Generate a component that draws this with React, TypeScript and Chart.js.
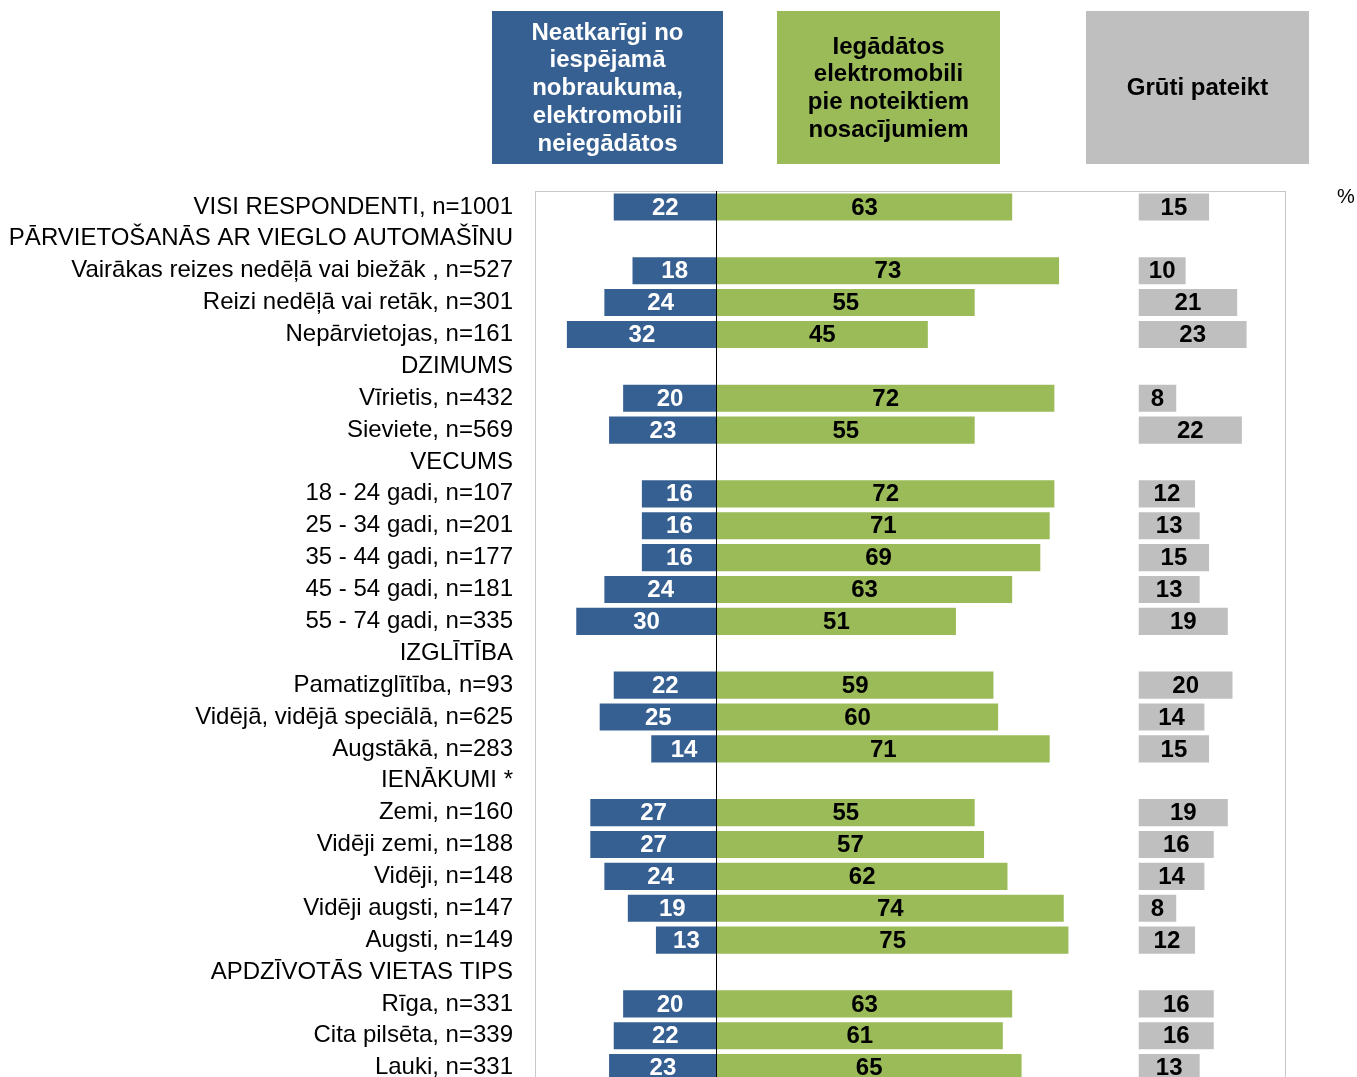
import React, { useEffect, useRef } from "react";
import { Chart, registerables } from "chart.js";

Chart.register(...registerables);

const categories = [
  "VISI RESPONDENTI, n=1001",
  "PĀRVIETOŠANĀS AR VIEGLO AUTOMAŠĪNU",
  "Vairākas reizes nedēļā vai biežāk , n=527",
  "Reizi nedēļā vai retāk, n=301",
  "Nepārvietojas, n=161",
  "DZIMUMS",
  "Vīrietis, n=432",
  "Sieviete, n=569",
  "VECUMS",
  "18 - 24 gadi, n=107",
  "25 - 34 gadi, n=201",
  "35 - 44 gadi, n=177",
  "45 - 54 gadi, n=181",
  "55 - 74 gadi, n=335",
  "IZGLĪTĪBA",
  "Pamatizglītība, n=93",
  "Vidējā, vidējā speciālā, n=625",
  "Augstākā, n=283",
  "IENĀKUMI *",
  "Zemi, n=160",
  "Vidēji zemi, n=188",
  "Vidēji, n=148",
  "Vidēji augsti, n=147",
  "Augsti, n=149",
  "APDZĪVOTĀS VIETAS TIPS",
  "Rīga, n=331",
  "Cita pilsēta, n=339",
  "Lauki, n=331",
];

const notBuying: (number | null)[] = [22, null, 18, 24, 32, null, 20, 23, null, 16, 16, 16, 24, 30, null, 22, 25, 14, null, 27, 27, 24, 19, 13, null, 20, 22, 23];
const conditional: (number | null)[] = [63, null, 73, 55, 45, null, 72, 55, null, 72, 71, 69, 63, 51, null, 59, 60, 71, null, 55, 57, 62, 74, 75, null, 63, 61, 65];
const hardToSay: (number | null)[] = [15, null, 10, 21, 23, null, 8, 22, null, 12, 13, 15, 13, 19, null, 20, 14, 15, null, 19, 16, 14, 8, 12, null, 16, 16, 13];

const GRAY_START = 90;

const headerBlue = ["Neatkarīgi no", "iespējamā", "nobraukuma,", "elektromobili", "neiegādātos"];
const headerGreen = ["Iegādātos", "elektromobili", "pie noteiktiem", "nosacījumiem"];
const headerGray = ["Grūti pateikt"];

const BLUE = "#376092";
const GREEN = "#9bbb59";
const GRAY = "#bfbfbf";
const FONT = "'Liberation Sans', Arial, sans-serif";

export default function App() {
  const ref = useRef<HTMLCanvasElement | null>(null);

  useEffect(() => {
    if (!ref.current) return;
    const labelsPlugin = {
      id: "customDraw",
      afterDatasetsDraw(chart: any) {
        const ctx = chart.ctx;
        const area = chart.chartArea;
        const xs = chart.scales.x;
        ctx.save();
        ctx.strokeStyle = "#c8c8c8";
        ctx.lineWidth = 1;
        ctx.strokeRect(Math.round(area.left) + 0.5, Math.round(area.top) + 0.5, area.right - area.left, area.bottom - area.top + 40);
        const x0 = Math.round(xs.getPixelForValue(0)) - 0.5;
        ctx.strokeStyle = "#000";
        ctx.beginPath();
        ctx.moveTo(x0, area.top);
        ctx.lineTo(x0, area.bottom + 40);
        ctx.stroke();
        const sources = [notBuying, conditional, hardToSay];
        const colors = ["#ffffff", "#000000", "#000000"];
        ctx.font = `bold 24px ${FONT}`;
        ctx.textAlign = "center";
        ctx.textBaseline = "middle";
        sources.forEach((arr, di) => {
          const meta = chart.getDatasetMeta(di);
          meta.data.forEach((bar: any, j: number) => {
            const v = arr[j];
            if (v == null) return;
            const cx = (bar.x + bar.base) / 2;
            ctx.fillStyle = colors[di];
            ctx.fillText(String(v), cx, bar.y + 1);
          });
        });
        ctx.restore();
      },
      afterDraw(chart: any) {
        const ctx = chart.ctx;
        ctx.save();
        const boxes = [
          { x: 492, w: 231, color: BLUE, text: "#ffffff", lines: headerBlue },
          { x: 777, w: 223, color: GREEN, text: "#000000", lines: headerGreen },
          { x: 1086, w: 223, color: GRAY, text: "#000000", lines: headerGray },
        ];
        const top = 11, h = 153, lh = 27.7;
        boxes.forEach((b) => {
          ctx.fillStyle = b.color;
          ctx.fillRect(b.x, top, b.w, h);
          ctx.fillStyle = b.text;
          ctx.font = `bold 24px ${FONT}`;
          ctx.textAlign = "center";
          ctx.textBaseline = "middle";
          const cy = top + h / 2;
          const n = b.lines.length;
          b.lines.forEach((ln, i) => {
            ctx.fillText(ln, b.x + b.w / 2, cy + (i - (n - 1) / 2) * lh + 1);
          });
        });
        ctx.fillStyle = "#000";
        ctx.font = `20px ${FONT}`;
        ctx.textAlign = "center";
        ctx.textBaseline = "middle";
        ctx.fillText("%", 1346, 197);
        ctx.restore();
      },
    };

    const chart = new Chart(ref.current, {
      type: "bar",
      data: {
        labels: categories,
        datasets: [
          {
            label: "Neatkarīgi no iespējamā nobraukuma, elektromobili neiegādātos",
            data: notBuying.map((v) => (v == null ? null : [-v, 0])) as any,
            backgroundColor: BLUE,
            grouped: false,
            barPercentage: 0.85,
            categoryPercentage: 1,
          } as any,
          {
            label: "Iegādātos elektromobili pie noteiktiem nosacījumiem",
            data: conditional.map((v) => (v == null ? null : [0, v])) as any,
            backgroundColor: GREEN,
            grouped: false,
            barPercentage: 0.85,
            categoryPercentage: 1,
          } as any,
          {
            label: "Grūti pateikt",
            data: hardToSay.map((v) => (v == null ? null : [GRAY_START, GRAY_START + v])) as any,
            backgroundColor: GRAY,
            grouped: false,
            barPercentage: 0.85,
            categoryPercentage: 1,
          } as any,
        ],
      },
      options: {
        indexAxis: "y",
        responsive: false,
        animation: false,
        layout: { padding: { top: 191, right: 72, bottom: 16, left: 0 } },
        plugins: { legend: { display: false }, tooltip: { enabled: false } },
        scales: {
          x: { type: "linear", min: -38.8, max: 121.2, display: false },
          y: {
            type: "category",
            grid: { display: false, drawTicks: false },
            border: { display: false },
            ticks: {
              autoSkip: false,
              padding: 22,
              color: "#000",
              font: { family: FONT, size: 24 },
            },
            afterFit: (s: any) => {
              s.width = 535;
            },
          },
        },
      } as any,
      plugins: [labelsPlugin],
    });
    return () => chart.destroy();
  }, []);

  return (
    <div style={{ position: "absolute", left: 0, top: 0, width: 1357, height: 1120 }}>
      <canvas ref={ref} width={1357} height={1120} style={{ display: "block" }} />
    </div>
  );
}
